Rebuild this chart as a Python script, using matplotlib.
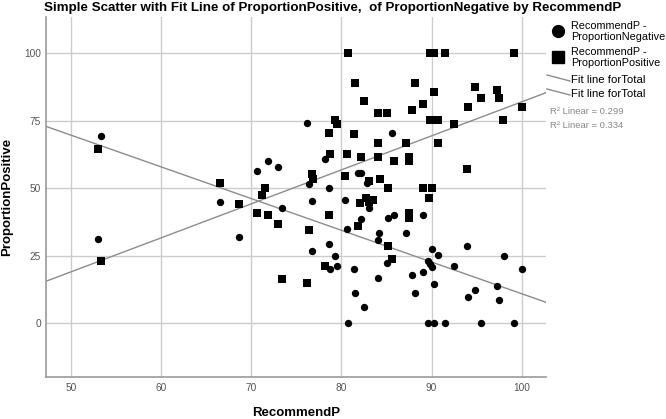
import numpy as np
import matplotlib
matplotlib.use("Agg")
import matplotlib.pyplot as plt
from matplotlib.lines import Line2D

plt.rcParams['font.family'] = ['Liberation Sans', 'DejaVu Sans']

# RecommendP vs ProportionPositive (squares)
pos_x = [53.0, 53.3, 66.5, 68.6, 80.7, 81.5, 82.5, 84.1, 85.0, 79.3, 79.5, 78.6, 81.4, 84.1,
         78.7, 80.6, 82.2, 84.1, 85.8, 76.7, 76.8, 80.4, 83.1, 84.3, 85.2, 71.5, 71.2, 82.1,
         82.7, 83.0, 83.5, 70.6, 71.8, 72.9, 78.6, 76.4, 81.8, 85.2, 85.6, 78.2, 73.4, 76.2,
         89.8, 90.3, 91.5, 99.2, 88.2, 90.3, 94.8, 97.3, 95.5, 97.5, 89.1, 87.8, 94.0, 100.0,
         89.8, 90.3, 90.7, 92.5, 97.9, 87.2, 90.7, 87.5, 87.5, 93.9, 89.0, 90.1, 89.7, 87.5, 87.5]
pos_y = [64.4, 23.2, 52.1, 44.1, 100.0, 89.0, 82.4, 77.9, 77.9, 75.2, 73.8, 70.6, 70.1, 66.8,
         62.7, 62.6, 61.6, 61.6, 60.1, 55.2, 53.4, 54.7, 52.7, 53.4, 50.2, 50.2, 47.5, 44.7,
         46.3, 45.0, 45.7, 40.7, 40.1, 36.9, 40.1, 34.6, 36.1, 28.6, 23.7, 21.1, 16.3, 14.9,
         100.0, 100.0, 100.0, 100.0, 89.0, 85.8, 87.6, 86.5, 83.4, 83.4, 81.1, 79.0, 80.0, 80.0,
         75.2, 75.2, 75.2, 73.7, 75.2, 66.8, 66.8, 61.7, 60.1, 57.3, 50.2, 50.2, 46.5, 40.7, 38.9]

# RecommendP vs ProportionNegative (circles)
neg_x = [53.3, 53.0, 66.5, 68.6, 76.2, 85.6, 71.8, 70.6, 72.9, 78.2, 81.8, 82.2, 82.8, 76.4,
         78.6, 76.7, 80.4, 83.1, 73.4, 82.2, 85.2, 85.8, 80.6, 84.2, 84.1, 78.6, 76.7, 79.3,
         79.5, 78.7, 81.4, 85.0, 84.1, 81.5, 82.5, 80.7, 89.0, 87.2, 90.1, 90.7, 89.6, 89.8,
         90.0, 93.9, 98.0, 100.0, 92.5, 89.1, 87.8, 90.3, 88.2, 97.3, 94.8, 94.0, 97.5,
         89.6, 90.3, 91.5, 95.5, 99.2]
neg_y = [69.4, 31.1, 45.0, 32.1, 74.1, 70.6, 60.1, 56.4, 58.0, 61.0, 55.7, 55.6, 51.9, 51.7,
         50.1, 45.3, 45.6, 42.6, 42.6, 38.6, 39.1, 40.1, 35.0, 33.6, 30.7, 29.5, 26.9, 25.0,
         21.1, 20.0, 20.1, 22.3, 16.8, 11.2, 6.0, 0.1, 40.1, 33.4, 27.4, 25.2, 23.1, 22.0,
         21.0, 28.7, 25.0, 20.1, 21.1, 19.1, 17.8, 14.4, 11.2, 13.7, 12.2, 9.6, 8.5,
         0.0, 0.0, 0.0, 0.0, 0.0]

x_ticks = [50, 60, 70, 80, 90, 100]
y_ticks = [0, 25, 50, 75, 100]
r2_labels = ['R\u00b2 Linear = 0.299', 'R\u00b2 Linear = 0.334']

W, H = 666, 419
fig = plt.figure(figsize=(W / 100, H / 100), dpi=100)
ax = fig.add_axes([46 / W, 1 - 377 / H, 500 / W, 360 / H])

xmin, xmax = 47.17, 102.72
ax.set_xlim(xmin, xmax)
ax.set_ylim(-19.9, 113.4)

ax.grid(True, color='#cccccc', linewidth=1.0)
ax.set_axisbelow(True)
for s in ['top', 'right']:
    ax.spines[s].set_visible(False)
for s in ['left', 'bottom']:
    ax.spines[s].set_color('#9a9a9a')
    ax.spines[s].set_linewidth(1.2)

ax.set_xticks(x_ticks)
ax.set_yticks(y_ticks)
ax.tick_params(length=0, labelsize=7.3, labelcolor='#555555')
ax.tick_params(axis='x', pad=4.5)
ax.tick_params(axis='y', pad=3.6)

# fit lines (least squares of each series)
xs = np.array([xmin, xmax])
b_neg = np.polyfit(neg_x, neg_y, 1)
b_pos = np.polyfit(pos_x, pos_y, 1)
ax.plot(xs, np.polyval(b_neg, xs), color='#8c8c8c', linewidth=1, zorder=2)
ax.plot(xs, np.polyval(b_pos, xs), color='#8c8c8c', linewidth=1, zorder=2)

ax.scatter(neg_x, neg_y, marker='o', s=28, color='black', linewidths=0, zorder=3)
ax.scatter(pos_x, pos_y, marker='s', s=28, color='black', linewidths=0, zorder=4)

ax.set_xlabel('RecommendP', fontsize=9.5, fontweight='bold', labelpad=10)
ax.set_ylabel('ProportionPositive', fontsize=9.5, fontweight='bold', labelpad=8)

fig.text(0.5, 1 - 8 / H, 'Simple Scatter with Fit Line of ProportionPositive,  of ProportionNegative by RecommendP',
         ha='center', va='center', fontsize=9.6, fontweight='bold')


# legend drawn in pixel positions
def px(x, y):
    return x / W, 1 - y / H


fig.add_artist(Line2D(*zip(px(557.5, 31)), marker='o', markersize=8.5, color='black', linestyle='none'))
fig.add_artist(Line2D(*zip(px(557.5, 57)), marker='s', markersize=8, color='black', linestyle='none'))
fig.text(*px(571, 26), 'RecommendP -', fontsize=7.8, va='center')
fig.text(*px(571, 37), 'ProportionNegative', fontsize=7.8, va='center')
fig.text(*px(571, 52), 'RecommendP -', fontsize=7.8, va='center')
fig.text(*px(571, 63), 'ProportionPositive', fontsize=7.8, va='center')
for yy in [75, 89]:
    x0, y0 = px(547, yy)
    x1, y1 = px(570, yy + 6)
    fig.add_artist(Line2D([x0, x1], [y0, y1], color='#8c8c8c', linewidth=1))
    fig.text(*px(571, yy + 5), 'Fit line forTotal', fontsize=8.2, va='center')
fig.text(*px(550, 112), r2_labels[0], fontsize=6.8, va='center', color='#888888')
fig.text(*px(550, 126), r2_labels[1], fontsize=6.8, va='center', color='#888888')

fig.savefig('out.png', dpi=100)
